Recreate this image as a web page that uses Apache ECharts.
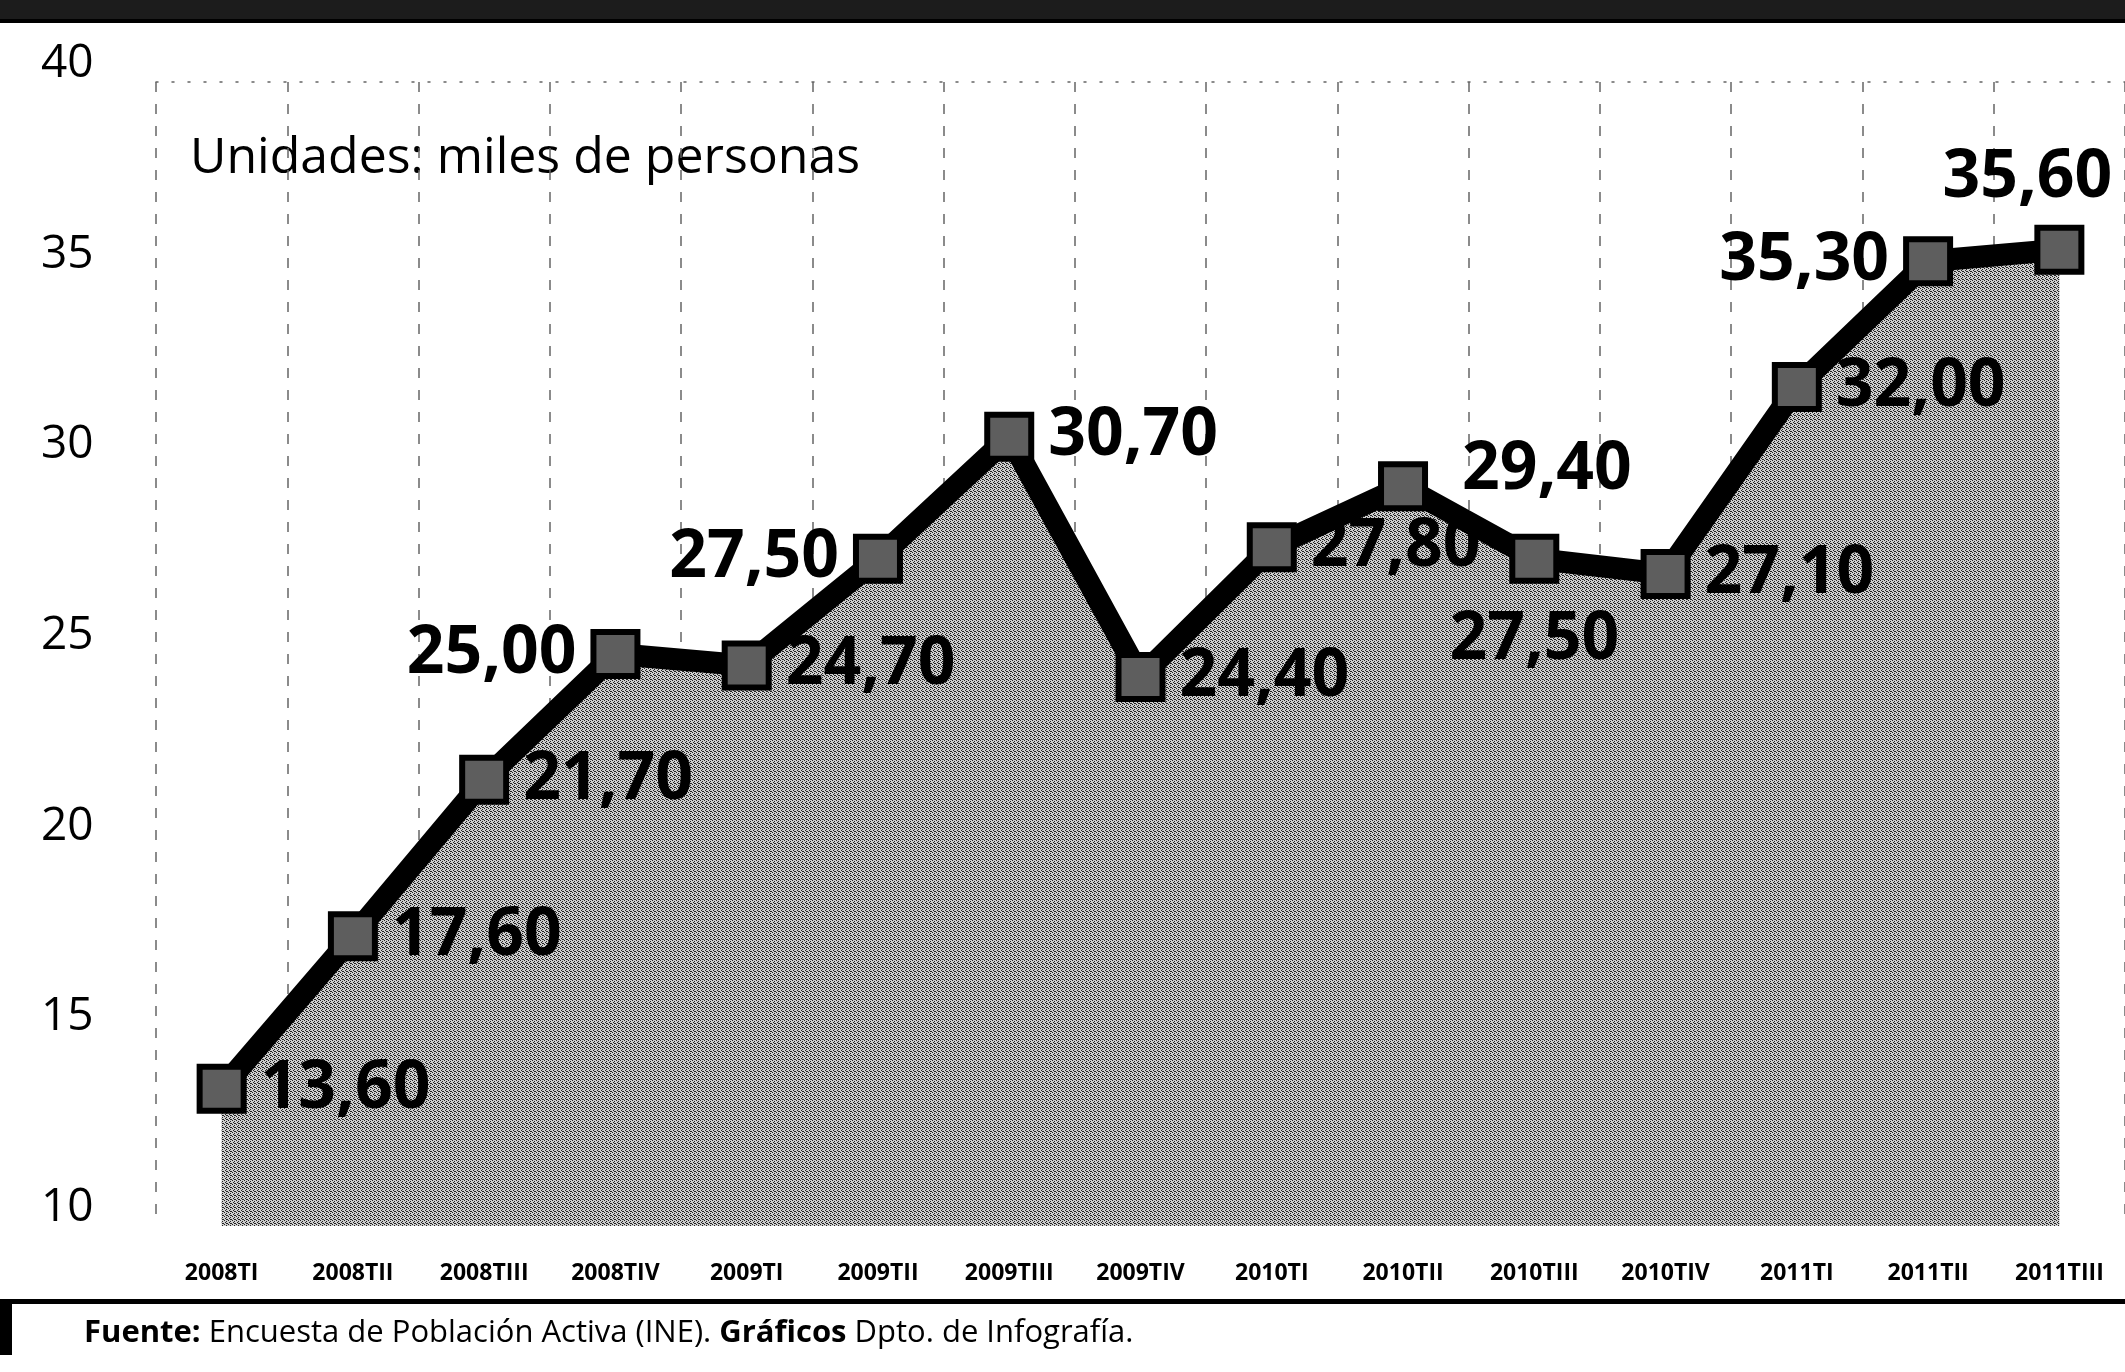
<!DOCTYPE html>
<html>
<head>
<meta charset="utf-8">
<script src="https://cdn.jsdelivr.net/npm/echarts@6/dist/echarts.min.js"></script>
<style>
html,body{margin:0;padding:0;background:#fff;}
#c{width:2125px;height:1372px;}
</style>
</head>
<body>
<div id="c"></div>
<script>
// ---- data ----
const categories = ['2008TI','2008TII','2008TIII','2008TIV','2009TI','2009TII','2009TIII','2009TIV','2010TI','2010TII','2010TIII','2010TIV','2011TI','2011TII','2011TIII'];
const values = [13.6, 17.6, 21.7, 25.0, 24.7, 27.5, 30.7, 24.4, 27.8, 29.4, 27.5, 27.1, 32.0, 35.3, 35.6];
const yMin = 10, yMax = 40, yStep = 5;
const unitText = 'Unidades: miles de personas';
const sourceBold1 = 'Fuente:';
const sourceText1 = ' Encuesta de Población Activa (INE). ';
const sourceBold2 = 'Gráficos';
const sourceText2 = ' Dpto. de Infografía.';

// ---- label placement (style only) ----
const labelPlacement = ['right','right','right','left','right','left','right','right','right','right','bottom','right','right','left','top'];

const FONT = 'Open Sans';

// halftone-like pattern for the area
const pat = document.createElement('canvas');
pat.width = 4; pat.height = 4;
const pc = pat.getContext('2d');
pc.fillStyle = '#cdcdcd'; pc.fillRect(0,0,4,4);
pc.fillStyle = '#222';
[[0,0],[2,1],[1,2],[3,3],[2,3]].forEach(p => pc.fillRect(p[0],p[1],1,1));

const seriesData = values.map((v, i) => {
  const pos = labelPlacement[i];
  const lab = { position: pos };
  if (pos === 'top') { lab.offset = [-32, 0]; }
  if (pos === 'bottom') { lab.distance = 24; }
  if (i === 9) { lab.offset = [20, -16]; }
  return { value: v, label: lab };
});

const chart = echarts.init(document.getElementById('c'), null, {renderer: 'canvas'});
chart.setOption({
  animation: false,
  backgroundColor: '#ffffff',
  grid: { left: 156, right: -4, top: 82, bottom: 146 },
  xAxis: [{
    type: 'category',
    data: categories,
    boundaryGap: true,
    axisLine: { show: false },
    axisTick: { show: false },
    axisLabel: { fontFamily: FONT, fontWeight: 'bold', fontSize: 23, color: '#000', margin: 36, interval: 0 },
    splitLine: { show: true, lineStyle: { color: '#666', width: 1.5, type: [10, 12] } },
    z: 1
  }, {
    type: 'category',
    data: categories,
    position: 'top',
    boundaryGap: true,
    axisLine: { show: true, lineStyle: { color: '#666', width: 1.5, type: [2, 14] } },
    axisTick: { show: false },
    axisLabel: { show: false },
    splitLine: { show: false }
  }],
  yAxis: {
    type: 'value',
    min: yMin, max: yMax, interval: yStep,
    axisLine: { show: false },
    axisTick: { show: false },
    splitLine: { show: false },
    axisLabel: { fontFamily: FONT, fontSize: 46, color: '#000', align: 'left', verticalAlign: 'bottom', lineHeight: 36, margin: 115 }
  },
  series: [{
    type: 'line',
    data: seriesData,
    symbol: 'rect',
    symbolSize: 44,
    lineStyle: { color: '#000', width: 22, join: 'miter' },
    itemStyle: { color: '#5e5e5e', borderColor: '#000', borderWidth: 6 },
    areaStyle: { color: { image: pat, repeat: 'repeat' }, opacity: 1, origin: 'start' },
    label: {
      show: true,
      fontFamily: FONT, fontWeight: 'bold', fontSize: 66, color: '#000',
      distance: 14,
      formatter: p => p.value.toFixed(2).replace('.', ',')
    },
    z: 3
  }],
  graphic: [
    { type: 'rect', left: 0, top: 0, shape: { width: 2125, height: 19 }, style: { fill: '#1c1c1c' } },
    { type: 'rect', left: 0, top: 19, shape: { width: 2125, height: 4 }, style: { fill: '#000' } },
    { type: 'text', left: 190, top: 134, style: { text: unitText, fontFamily: FONT, fontSize: 50, fill: '#000' } },
    { type: 'rect', left: 0, top: 1299, shape: { width: 2125, height: 5 }, style: { fill: '#000' } },
    { type: 'rect', left: 0, top: 1299, shape: { width: 12, height: 56 }, style: { fill: '#000' } },
    { type: 'text', left: 84, top: 1318, style: {
        text: '{b|' + sourceBold1 + '}{r|' + sourceText1 + '}{b|' + sourceBold2 + '}{r|' + sourceText2 + '}',
        rich: {
          b: { fontFamily: FONT, fontWeight: 'bold', fontSize: 31, fill: '#000', color: '#000' },
          r: { fontFamily: FONT, fontSize: 31, fill: '#000', color: '#000' }
        }
    } }
  ]
});
</script>
</body>
</html>
